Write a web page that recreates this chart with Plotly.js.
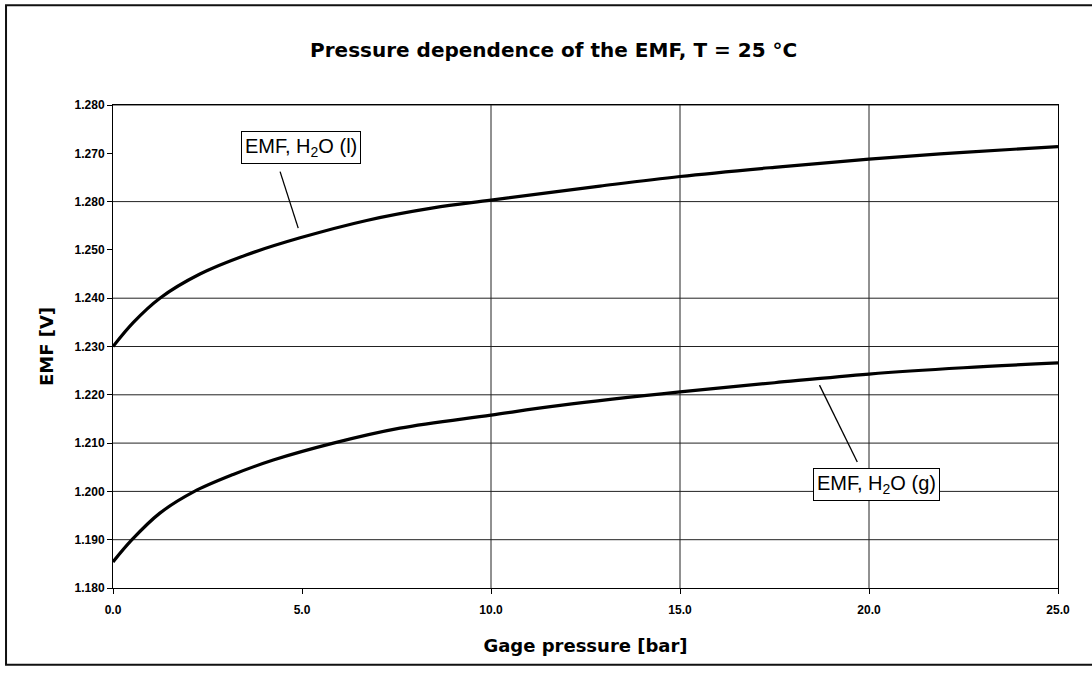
<!DOCTYPE html>
<html>
<head>
<meta charset="utf-8">
<script src="https://cdn.plot.ly/plotly-3.0.1.min.js"></script>
<style>
  html, body { margin: 0; padding: 0; background: #fff; }
  #chart { width: 1092px; height: 680px; }
</style>
</head>
<body>
<div id="chart"></div>
<script>
// Gage pressure [bar] and EMF [V]
const pressureLiquid = [0, 0.54, 1.24, 2.3, 3.54, 4.95, 6.71, 8.47, 10, 12.88, 15, 17.5, 20, 22.5, 25];
const emfLiquid      = [1.2300, 1.2350, 1.2400, 1.2450, 1.2490, 1.2525, 1.2561, 1.2587, 1.2603, 1.2632, 1.2652, 1.2671, 1.2688, 1.2702, 1.2714];

const pressureGas = [0, 0.49, 1.24, 2.13, 3.18, 4.24, 5.83, 7.59, 10, 11.83, 15, 17.5, 20, 22.5, 25];
const emfGas      = [1.1854, 1.1899, 1.1955, 1.1999, 1.2035, 1.2065, 1.2100, 1.2131, 1.2158, 1.2178, 1.2206, 1.2225, 1.2243, 1.2256, 1.2266];

const seriesNames = ['EMF, H<sub>2</sub>O (l)', 'EMF, H<sub>2</sub>O (g)'];

// Axis ticks
const yTickValues = [1.18, 1.19, 1.20, 1.21, 1.22, 1.23, 1.24, 1.25, 1.26, 1.27, 1.28];
const yTickLabels = ['1.180', '1.190', '1.200', '1.210', '1.220', '1.230', '1.240', '1.250', '1.280', '1.270', '1.280'];
const xTickValues = [0, 5, 10, 15, 20, 25];
const xTickLabels = ['0.0', '5.0', '10.0', '15.0', '20.0', '25.0'];

// Grid lines visible in the reference
const yGridValues = [1.19, 1.20, 1.21, 1.22, 1.23, 1.24, 1.26, 1.28];
const xGridValues = [10, 15, 20];

const lineStyle = { color: '#000', width: 3.2, shape: 'spline', smoothing: 1 };
const traces = [
  { x: pressureLiquid, y: emfLiquid, name: seriesNames[0], type: 'scatter', mode: 'lines', line: lineStyle },
  { x: pressureGas, y: emfGas, name: seriesNames[1], type: 'scatter', mode: 'lines', line: lineStyle }
];

const shapes = [];
yGridValues.forEach(v => shapes.push({ type: 'line', xref: 'paper', x0: 0, x1: 1, yref: 'y', y0: v, y1: v, layer: 'below', line: { color: '#222', width: 1 } }));
xGridValues.forEach(v => shapes.push({ type: 'line', yref: 'paper', y0: 0, y1: 1, xref: 'x', x0: v, x1: v, layer: 'below', line: { color: '#222', width: 1 } }));
// leader lines from the series labels to the curves
shapes.push({ type: 'line', xref: 'x', yref: 'y', x0: 4.42, y0: 1.2662, x1: 4.9, y1: 1.2545, line: { color: '#000', width: 1.3 } });
shapes.push({ type: 'line', xref: 'x', yref: 'y', x0: 19.69, y0: 1.2061, x1: 18.69, y1: 1.2220, line: { color: '#000', width: 1.3 } });
// outer frame of the figure (scanned page border)
shapes.push({ type: 'rect', xref: 'paper', yref: 'paper', x0: -0.1132, x1: 1.1, y0: -0.159, y1: 1.2065, line: { color: '#111', width: 2 }, fillcolor: 'rgba(0,0,0,0)' });

const labelFont = { family: 'Liberation Sans, Arial, sans-serif', size: 20, color: '#000' };
const annotations = [
  { x: 4.98, y: 1.2713, xref: 'x', yref: 'y', text: seriesNames[0], showarrow: false, font: labelFont, bgcolor: '#fff', bordercolor: '#000', borderwidth: 1, borderpad: 3 },
  { x: 20.19, y: 1.2015, xref: 'x', yref: 'y', text: seriesNames[1], showarrow: false, font: labelFont, bgcolor: '#fff', bordercolor: '#000', borderwidth: 1, borderpad: 3 }
];

const boldFamily = 'DejaVu Sans, Arial, sans-serif';
const tickFont = { family: 'Liberation Sans, Arial, sans-serif', size: 12, color: '#000', weight: 'bold' };

const layout = {
  width: 1092, height: 680,
  margin: { l: 113, r: 34, t: 105, b: 92 },
  paper_bgcolor: '#fff', plot_bgcolor: '#fff',
  showlegend: false,
  title: { text: '<b>Pressure dependence of the EMF, T = 25 °C</b>', x: 0.507, xanchor: 'center', y: 0.927, yanchor: 'middle',
           font: { family: boldFamily, size: 20, color: '#000' } },
  xaxis: {
    range: [0, 25], tickvals: xTickValues, ticktext: xTickLabels,
    showgrid: false, zeroline: false, showline: true, linecolor: '#000', linewidth: 1, mirror: true,
    ticks: 'outside', ticklen: 5, tickcolor: '#000', ticklabelstandoff: 6,
    tickfont: tickFont,
    title: { text: '<b>Gage pressure [bar]</b>', standoff: 22, font: { family: boldFamily, size: 18, color: '#000' } }
  },
  yaxis: {
    range: [1.18, 1.28], tickvals: yTickValues, ticktext: yTickLabels,
    showgrid: false, zeroline: false, showline: true, linecolor: '#000', linewidth: 1, mirror: true,
    ticks: 'outside', ticklen: 5, tickcolor: '#000',
    tickfont: tickFont,
    title: { text: '<b>EMF [V]</b>', standoff: 16, font: { family: boldFamily, size: 18, color: '#000' } }
  },
  shapes: shapes,
  annotations: annotations
};

Plotly.newPlot('chart', traces, layout, { displayModeBar: false, staticPlot: true });
</script>
</body>
</html>
